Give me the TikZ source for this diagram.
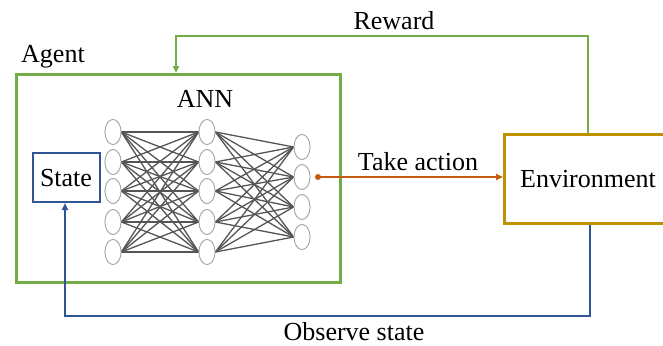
\documentclass[tikz,border=0pt]{standalone}
\usepackage{fontspec}
\setmainfont{Liberation Serif}
\usetikzlibrary{arrows.meta,shapes.geometric}
\definecolor{agentgreen}{HTML}{70AD47}
\definecolor{stateblue}{HTML}{2F5597}
\definecolor{envgold}{HTML}{BF9000}
\definecolor{actorange}{HTML}{C55A11}
\definecolor{edgegray}{HTML}{555555}
\tikzset{
  lbl/.style={font=\fontsize{26}{29}\selectfont, inner sep=0pt},
  neuron/.style={ellipse, draw=gray!70, fill=white, line width=0.8pt, minimum width=16pt, minimum height=25pt, inner sep=0pt},
  nnedge/.style={draw=edgegray, line width=1.3pt},
  tip/.style={-{Triangle[length=7pt,width=6pt]}}
}
\begin{document}
\begin{tikzpicture}[x=1pt,y=-1pt]
\useasboundingbox (0,0) rectangle (663,345);
% agent box
\node[draw=agentgreen, line width=3pt, minimum width=324pt, minimum height=208pt, anchor=north west, inner sep=0pt] (agent) at (15,73) {};
\node[lbl, anchor=base west] (agentlbl) at (21,63) {Agent};
\node[lbl, anchor=base] (ann) at (205,107) {ANN};
% state box
\node[draw=stateblue, line width=2pt, minimum width=67pt, minimum height=49pt, inner sep=0pt] (state) at (66,177.5) {};
\node[lbl, anchor=base] (statelbl) at (66,186) {State};
% environment box
\node[draw=envgold, line width=3pt, minimum width=166pt, minimum height=89pt, anchor=north west, inner sep=0pt] (env) at (503,133) {};
\node[lbl, anchor=base] (envlbl) at (588,187) {Environment};
% neurons
\foreach \i/\y in {1/132,2/162,3/191,4/222,5/252}{
  \node[neuron] (a\i) at (113,\y) {};
  \node[neuron] (b\i) at (207,\y) {};
}
\foreach \j/\y in {1/147,2/177,3/207,4/237}{
  \node[neuron] (c\j) at (302,\y) {};
}
\foreach \i in {1,...,5}{
  \foreach \k in {1,...,5}{
    \draw[nnedge] (a\i.east) -- (b\k.west);
  }
  \foreach \j in {1,...,4}{
    \draw[nnedge] (b\i.east) -- (c\j.west);
  }
}
% redraw neurons on top
\foreach \i/\y in {1/132,2/162,3/191,4/222,5/252}{
  \node[neuron] at (113,\y) {};
  \node[neuron] at (207,\y) {};
}
\foreach \j/\y in {1/147,2/177,3/207,4/237}{
  \node[neuron] at (302,\y) {};
}
% take action
\coordinate (actstart) at (318,177);
\fill[actorange] (actstart) circle (3pt);
\draw[actorange, line width=2pt, tip] (actstart) -- (env.west |- actstart);
\node[lbl, anchor=base] (actlbl) at (418,170) {Take action};
% reward
\coordinate (rtop1) at (588,36);
\coordinate (rtop2) at (176,36);
\draw[agentgreen, line width=2pt, tip] (env.north -| rtop1) -- (rtop1) -- (rtop2) -- (rtop2 |- agent.north);
\node[lbl, anchor=base] (rewardlbl) at (394,30) {Reward};
% observe
\coordinate (o1) at (590,316);
\coordinate (o2) at (65,316);
\draw[stateblue, line width=2pt, tip] (env.south -| o1) -- (o1) -- (o2) -- (state.south -| o2);
\node[lbl, anchor=base, text depth=0pt] (obslbl) at (354,340) {Observe state};
\end{tikzpicture}
\end{document}
